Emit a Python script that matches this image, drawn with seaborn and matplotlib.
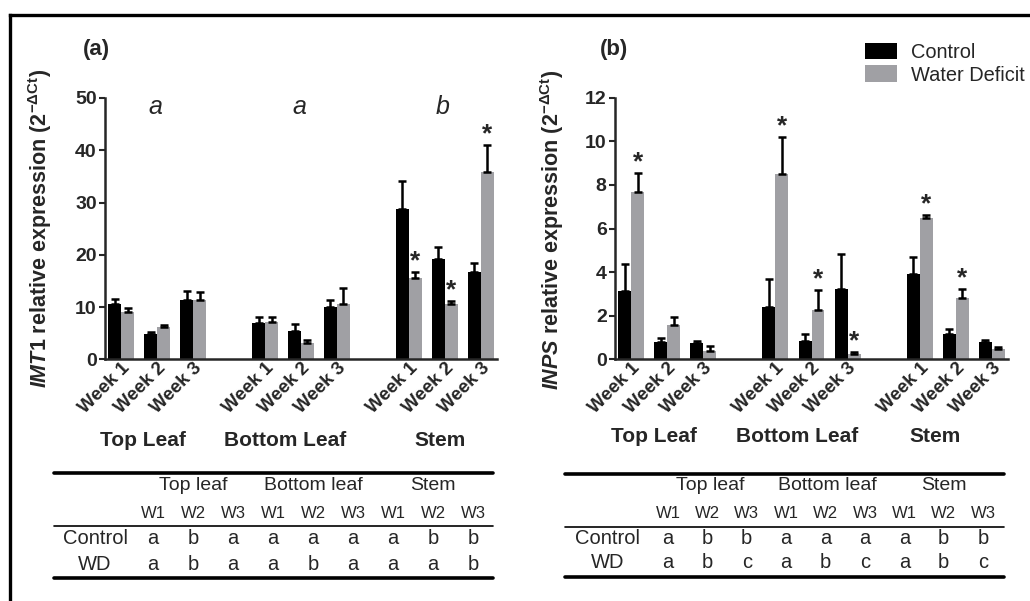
import numpy as np
import pandas as pd
import matplotlib
matplotlib.use("Agg")
import matplotlib.pyplot as plt
import matplotlib.transforms as mtransforms
from matplotlib.lines import Line2D
import seaborn as sns

# ---------------- data ----------------
tissues = ["Top Leaf", "Bottom Leaf", "Stem"]
weeks = ["Week 1", "Week 2", "Week 3"]
treatments = ["Control", "Water Deficit"]

imt1_control = [10.6, 4.8, 11.4, 6.9, 5.4, 10.0, 28.7, 19.2, 16.8]
imt1_control_err = [1.0, 0.45, 1.6, 1.15, 1.4, 1.4, 5.5, 2.3, 1.7]
imt1_wd = [9.0, 6.1, 11.4, 7.2, 3.1, 10.6, 15.6, 10.5, 35.8]
imt1_wd_err = [0.8, 0.5, 1.5, 0.8, 0.55, 3.1, 1.1, 0.7, 5.3]
imt1_wd_star = [0, 0, 0, 0, 0, 0, 1, 1, 1]
imt1_tissue_letters = ["a", "a", "b"]

inps_control = [3.13, 0.81, 0.73, 2.41, 0.84, 3.24, 3.91, 1.17, 0.81]
inps_control_err = [1.24, 0.18, 0.12, 1.26, 0.33, 1.59, 0.77, 0.22, 0.09]
inps_wd = [7.69, 1.59, 0.38, 8.5, 2.26, 0.24, 6.47, 2.8, 0.46]
inps_wd_err = [0.87, 0.36, 0.23, 1.7, 0.92, 0.09, 0.15, 0.44, 0.12]
inps_wd_star = [1, 0, 0, 1, 1, 1, 1, 1, 0]

imt1_yticks = [0, 10, 20, 30, 40, 50]
inps_yticks = [0, 2, 4, 6, 8, 10, 12]

table_tissues = ["Top leaf", "Bottom leaf", "Stem"]
table_weeks = ["W1", "W2", "W3"] * 3
table_rows = ["Control", "WD"]
imt1_table_control = ["a", "b", "a", "a", "a", "a", "a", "b", "b"]
imt1_table_wd = ["a", "b", "a", "a", "b", "a", "a", "a", "b"]
inps_table_control = ["a", "b", "b", "a", "a", "a", "a", "b", "b"]
inps_table_wd = ["a", "b", "c", "a", "b", "c", "a", "b", "c"]

# ---------------- style ----------------
sns.set_style("ticks")
plt.rcParams["font.family"] = ["Liberation Sans", "DejaVu Sans"]
plt.rcParams["font.weight"] = "bold"
plt.rcParams["mathtext.fontset"] = "custom"
plt.rcParams["mathtext.rm"] = "Liberation Sans:bold"
plt.rcParams["mathtext.bf"] = "Liberation Sans:bold"
plt.rcParams["mathtext.it"] = "Liberation Sans:italic:bold"

BLACK = "#000000"
GRAY = "#A0A0A4"

W, H = 1030, 601
fig = plt.figure(figsize=(W / 100, H / 100), dpi=100)


def fx(px):
    return px / W


def fy(py):
    return 1 - py / H


ax_a = fig.add_axes([fx(105), fy(359.3), fx(497) - fx(105), fy(98) - fy(359.3)])
ax_b = fig.add_axes([fx(615), fy(359.3), fx(1008) - fx(615), fy(97.7) - fy(359.3)])

slots = [f"{t} {w}" for t in tissues for w in weeks]
order = slots[0:3] + ["gap 1"] + slots[3:6] + ["gap 2"] + slots[6:9]


def draw_panel(ax, control, control_err, wd, wd_err, stars, yticks, legend):
    df = pd.DataFrame({
        "slot": slots * 2,
        "treatment": ["Control"] * 9 + ["Water Deficit"] * 9,
        "value": list(control) + list(wd),
    })
    sns.barplot(data=df, x="slot", y="value", hue="treatment", order=order,
                hue_order=treatments, palette=[BLACK, GRAY], width=0.72,
                errorbar=None, saturation=1, linewidth=0, ax=ax, legend=legend)
    errs = [control_err, wd_err]
    bar_pos = []
    for ci, cont in enumerate(ax.containers[:2]):
        bars = [b for b in cont.patches if np.isfinite(b.get_height())]
        bars.sort(key=lambda b: b.get_x())
        xs = [b.get_x() + b.get_width() / 2 for b in bars]
        hs = [b.get_height() for b in bars]
        ax.errorbar(xs, hs, yerr=[np.zeros(len(hs)), errs[ci]], fmt="none",
                    ecolor="k", elinewidth=1.8, capsize=2.8, capthick=1.8, zorder=3)
        bar_pos.append((xs, hs))
    xs, hs = bar_pos[1]
    for i, s in enumerate(stars):
        if s:
            ax.annotate("*", (xs[i], hs[i] + wd_err[i]), xytext=(0, -1),
                        textcoords="offset points", ha="center", va="bottom",
                        fontsize=19, fontweight="bold")
    ax.set_xlim(-0.45, 10.45)
    ax.set_ylim(0, yticks[-1])
    ax.set_yticks(yticks)
    ax.set_xticks([order.index(s) for s in slots])
    ax.set_xticklabels(weeks * 3, rotation=45, ha="right", va="top",
                       rotation_mode="anchor", fontsize=13.5, fontweight="bold")
    offset = mtransforms.ScaledTranslation(6 / 72, -6 / 72, fig.dpi_scale_trans)
    for lbl in ax.get_xticklabels():
        lbl.set_transform(lbl.get_transform() + offset)
    ax.tick_params(axis="x", length=0, pad=0)
    ax.tick_params(axis="y", direction="out", length=4, width=1.5, pad=2,
                   labelsize=14)
    for lbl in ax.get_yticklabels():
        lbl.set_fontweight("bold")
    ax.set_xlabel("")
    ax.set_ylabel("")
    sns.despine(ax=ax)
    for sp in ["left", "bottom"]:
        ax.spines[sp].set_linewidth(1.8)


draw_panel(ax_a, imt1_control, imt1_control_err, imt1_wd, imt1_wd_err,
           imt1_wd_star, imt1_yticks, False)
draw_panel(ax_b, inps_control, inps_control_err, inps_wd, inps_wd_err,
           inps_wd_star, inps_yticks, True)

# tissue letters on panel a
for ti, letter in enumerate(imt1_tissue_letters):
    ax_a.text(order.index(slots[ti * 3 + 1]) - 0.05, 48.2, letter, ha="center",
              va="center", fontsize=18, style="italic", fontweight="normal")

# legend
sns.move_legend(ax_b, loc="upper left", bbox_to_anchor=(0.636, 1.21),
                frameon=False, title=None, fontsize=14.4, handlelength=1.6,
                handleheight=0.88, handletextpad=0.7, labelspacing=0.18,
                borderpad=0, borderaxespad=0)
for t in ax_b.get_legend().get_texts():
    t.set_fontweight("normal")

# y labels
fig.text(fx(40), fy(228), r"$\it{IMT1}$ relative expression (2$^{\rm{-\Delta Ct}}$)",
         rotation=90, ha="center", va="center", fontsize=15.5, fontweight="bold")
fig.text(fx(552), fy(230), r"$\it{INPS}$ relative expression (2$^{\rm{-\Delta Ct}}$)",
         rotation=90, ha="center", va="center", fontsize=15.5, fontweight="bold")

# panel labels
fig.text(fx(96), fy(50), "(a)", ha="center", va="center", fontsize=16, fontweight="bold")
fig.text(fx(614), fy(50), "(b)", ha="center", va="center", fontsize=16, fontweight="bold")

# tissue group labels
for xpx, t in zip([143, 285, 440], tissues):
    fig.text(fx(xpx), fy(441), t, ha="center", va="center", fontsize=15, fontweight="bold")
for xpx, t in zip([654, 797, 935], tissues):
    fig.text(fx(xpx), fy(437), t, ha="center", va="center", fontsize=15, fontweight="bold")


# tables
def draw_table(x0, x1, y_lines, head_x, head_y, w_x0, w_dx, w_y, row_x, row_y,
               ctrl, wd):
    ytop, ymid, ybot = y_lines
    for y, lw in [(ytop, 2.6), (ymid, 1.2), (ybot, 2.6)]:
        fig.add_artist(Line2D([fx(x0), fx(x1)], [fy(y), fy(y)], lw=lw,
                              color="k", transform=fig.transFigure))
    for xp, t in zip(head_x, table_tissues):
        fig.text(fx(xp), fy(head_y), t, ha="center", va="center",
                 fontsize=14, fontweight="normal")
    for i, w in enumerate(table_weeks):
        fig.text(fx(w_x0 + i * w_dx), fy(w_y), w, ha="center", va="center",
                 fontsize=12, fontweight="normal")
    for r, (name, vals) in enumerate(zip(table_rows, [ctrl, wd])):
        fig.text(fx(row_x), fy(row_y[r]), name, ha="center", va="center",
                 fontsize=14.5, fontweight="normal")
        for i, v in enumerate(vals):
            fig.text(fx(w_x0 + i * w_dx), fy(row_y[r]), v, ha="center",
                     va="center", fontsize=14.5, fontweight="normal")


draw_table(54, 493, (473, 526, 578), [193, 313, 433], 486, 153, 40, 513,
           95, (538, 564), imt1_table_control, imt1_table_wd)
draw_table(565, 1004, (474, 527, 577), [710, 827, 944], 486, 668, 39.4, 513,
           608, (538, 563), inps_table_control, inps_table_wd)

# outer frame (partially cropped)
fig.add_artist(Line2D([fx(10), 1.0], [fy(15), fy(15)], lw=2.4, color="k",
                      transform=fig.transFigure, solid_capstyle="projecting"))
fig.add_artist(Line2D([fx(10), fx(10)], [fy(15), 0.0], lw=2.4, color="k",
                      transform=fig.transFigure, solid_capstyle="projecting"))

fig.savefig("out.png", dpi=100)
